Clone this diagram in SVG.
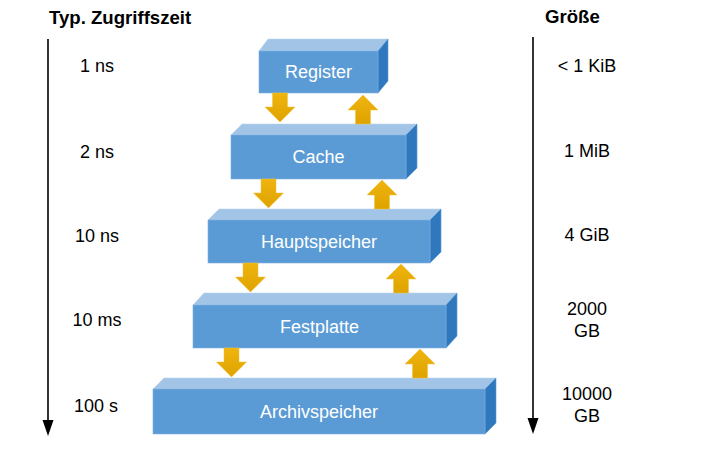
<svg xmlns="http://www.w3.org/2000/svg" width="706" height="462" viewBox="0 0 706 462">
<defs>
<style>
.front{fill:#5B9BD5;stroke:#7FB0DF;stroke-width:0.6}
.top{fill:#A2C5E7;stroke:#B9D4EE;stroke-width:0.6}
.side{fill:#2F78BE;stroke:#5B9BD5;stroke-width:0.6}
.lbl{font-family:"Liberation Sans",Arial,sans-serif;font-size:18px;fill:#FFFFFF;text-anchor:middle}
.val{font-family:"Liberation Sans",Arial,sans-serif;font-size:18px;fill:#000000;text-anchor:middle}
.ttl{font-family:"Liberation Sans",Arial,sans-serif;font-size:18.6px;font-weight:bold;fill:#000000}
.axis{stroke:#000000;stroke-width:1.6;fill:none}
.arr{fill:url(#gold);stroke:#F3C33A;stroke-width:0.5}
</style>
<linearGradient id="gold" x1="0" y1="0" x2="0" y2="1">
<stop offset="0" stop-color="#EFB40E"/>
<stop offset="1" stop-color="#DFA300"/>
</linearGradient>
<path id="down" d="M-7.5,0 H7.5 V14 H15 L0,29 L-15,14 H-7.5 Z"/>
<path id="up" d="M0,0 L15,15 H7.5 V29 H-7.5 V15 H-15 Z"/>
</defs>
<rect width="706" height="462" fill="#FFFFFF"/>

<g id="axes">
<line class="axis" x1="48" y1="39" x2="48" y2="420"/>
<path d="M42.5,420 L53.5,420 L48,436 Z" fill="#000000"/>
<line class="axis" x1="533" y1="37" x2="533" y2="418"/>
<path d="M527.5,418 L538.5,418 L533,434 Z" fill="#000000"/>
<text class="ttl" x="49" y="24">Typ. Zugriffszeit</text>
<text class="ttl" x="545" y="23">Größe</text>
</g>

<g id="times">
<text class="val" x="97" y="72">1 ns</text>
<text class="val" x="97" y="158">2 ns</text>
<text class="val" x="97" y="242">10 ns</text>
<text class="val" x="97" y="326">10 ms</text>
<text class="val" x="96" y="412">100 s</text>
</g>

<g id="sizes">
<text class="val" x="587" y="72">&lt; 1 KiB</text>
<text class="val" x="587" y="157">1 MiB</text>
<text class="val" x="587" y="241">4 GiB</text>
<text class="val" x="587" y="315">2000</text>
<text class="val" x="587" y="337">GB</text>
<text class="val" x="587" y="400">10000</text>
<text class="val" x="587" y="422">GB</text>
</g>

<g id="register">
<polygon class="top" points="259,51 268,39 388,39 378,51"/>
<polygon class="side" points="378,51 388,39 388,81 378,93"/>
<rect class="front" x="259" y="51" width="119" height="42"/>
<text class="lbl" x="318.5" y="78">Register</text>
</g>

<g id="cache">
<polygon class="top" points="231,135 242,124 417,124 406,135"/>
<polygon class="side" points="406,135 417,124 417,168 406,179"/>
<rect class="front" x="231" y="135" width="175" height="44"/>
<text class="lbl" x="318.5" y="163">Cache</text>
</g>

<g id="hauptspeicher">
<polygon class="top" points="208,220 219,209 441,209 430,220"/>
<polygon class="side" points="430,220 441,209 441,252 430,263"/>
<rect class="front" x="208" y="220" width="222" height="43"/>
<text class="lbl" x="319" y="247.5">Hauptspeicher</text>
</g>

<g id="festplatte">
<polygon class="top" points="193,305 204,293 457,293 446,305"/>
<polygon class="side" points="446,305 457,293 457,336 446,348"/>
<rect class="front" x="193" y="305" width="253" height="43"/>
<text class="lbl" x="319.5" y="332.5">Festplatte</text>
</g>

<g id="archivspeicher">
<polygon class="top" points="153,389 164,378 496,378 485,389"/>
<polygon class="side" points="485,389 496,378 496,423 485,434"/>
<rect class="front" x="153" y="389" width="332" height="45"/>
<text class="lbl" x="319" y="417.5">Archivspeicher</text>
</g>

<g id="connectors">
<use href="#down" class="arr" x="280" y="93"/>
<use href="#up" class="arr" x="363" y="95"/>
<use href="#down" class="arr" x="268.5" y="179"/>
<use href="#up" class="arr" x="382" y="180"/>
<use href="#down" class="arr" x="250.5" y="263"/>
<use href="#up" class="arr" x="401" y="264"/>
<use href="#down" class="arr" x="231.5" y="348"/>
<use href="#up" class="arr" x="420" y="349"/>
</g>
</svg>
